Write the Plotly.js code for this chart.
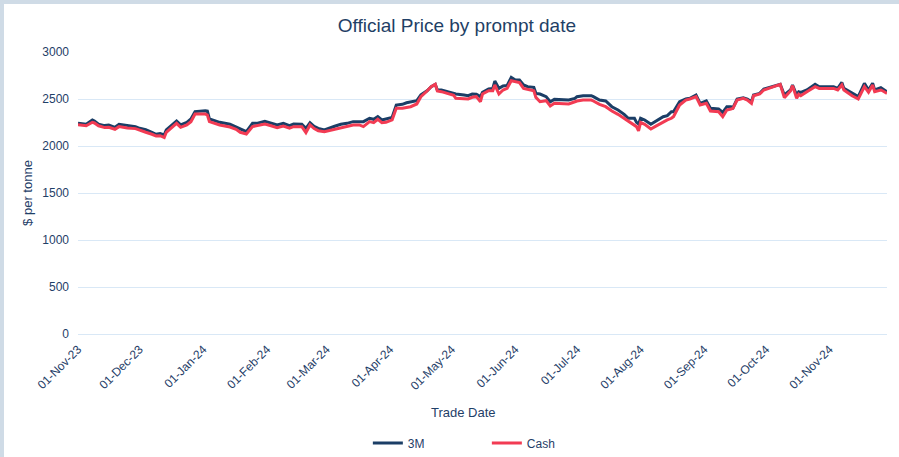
<!DOCTYPE html>
<html>
<head>
<meta charset="utf-8">
<script src="https://cdn.plot.ly/plotly-3.0.1.min.js"></script>
<style>
  html, body { margin: 0; padding: 0; background: #cfdbe6; width: 899px; height: 457px; overflow: hidden; }
  #chart { position: absolute; left: 4px; top: 4px; width: 895px; height: 453px; background: #ffffff; }
</style>
</head>
<body>
<div id="chart"></div>
<script>
const dates = [
  "2023-11-01","2023-11-05","2023-11-08","2023-11-09","2023-11-11","2023-11-14","2023-11-16","2023-11-19","2023-11-21","2023-11-25",
  "2023-11-29","2023-12-01","2023-12-04","2023-12-07","2023-12-09","2023-12-11","2023-12-13","2023-12-14","2023-12-17","2023-12-19",
  "2023-12-21","2023-12-24","2023-12-26","2023-12-28","2024-01-02","2024-01-03","2024-01-04","2024-01-09","2024-01-14","2024-01-17",
  "2024-01-19","2024-01-22","2024-01-25","2024-01-27","2024-01-31","2024-02-03","2024-02-06","2024-02-09","2024-02-12","2024-02-14",
  "2024-02-18","2024-02-20","2024-02-22","2024-02-24","2024-02-26","2024-02-29","2024-03-02","2024-03-05","2024-03-08","2024-03-11",
  "2024-03-14","2024-03-17","2024-03-19","2024-03-22","2024-03-24","2024-03-26","2024-03-28","2024-03-30","2024-04-02","2024-04-04",
  "2024-04-07","2024-04-09","2024-04-11","2024-04-14","2024-04-16","2024-04-19","2024-04-21","2024-04-23","2024-04-24","2024-04-26",
  "2024-04-29","2024-05-02","2024-05-03","2024-05-07","2024-05-09","2024-05-11","2024-05-13","2024-05-15","2024-05-16","2024-05-19",
  "2024-05-21","2024-05-22","2024-05-24","2024-05-26","2024-05-28","2024-05-30","2024-06-01","2024-06-03","2024-06-05","2024-06-07",
  "2024-06-10","2024-06-11","2024-06-13","2024-06-16","2024-06-18","2024-06-20","2024-06-24","2024-06-27","2024-06-30","2024-07-01",
  "2024-07-04","2024-07-08","2024-07-09","2024-07-12","2024-07-15","2024-07-18","2024-07-21","2024-07-24","2024-07-26","2024-07-29",
  "2024-07-30","2024-07-31","2024-08-01","2024-08-03","2024-08-06","2024-08-08","2024-08-12","2024-08-14","2024-08-16","2024-08-17",
  "2024-08-20","2024-08-23","2024-08-25","2024-08-28","2024-08-30","2024-09-02","2024-09-04","2024-09-08","2024-09-10","2024-09-12",
  "2024-09-14","2024-09-15","2024-09-17","2024-09-20","2024-09-22","2024-09-24","2024-09-25","2024-09-28","2024-09-30","2024-10-04",
  "2024-10-07","2024-10-08","2024-10-10","2024-10-13","2024-10-14","2024-10-16","2024-10-17","2024-10-18","2024-10-21","2024-10-25",
  "2024-10-27","2024-10-31","2024-11-03","2024-11-05","2024-11-07","2024-11-08","2024-11-12","2024-11-15","2024-11-18","2024-11-20",
  "2024-11-22","2024-11-23","2024-11-26","2024-11-27","2024-11-29"
];

const price3M = [
  2241,2231,2277,2266,2231,2217,2224,2199,2231,2217,
  2206,2188,2174,2146,2125,2132,2118,2171,2224,2266,
  2224,2252,2288,2366,2376,2372,2288,2252,2231,2203,
  2178,2153,2241,2241,2263,2241,2224,2241,2217,2234,
  2231,2188,2248,2210,2188,2170,2188,2210,2231,2241,
  2259,2259,2259,2295,2284,2312,2277,2288,2305,2436,
  2443,2460,2471,2482,2543,2588,2631,2656,2596,2596,
  2578,2553,2553,2543,2535,2553,2550,2525,2571,2606,
  2613,2691,2613,2638,2645,2730,2702,2702,2649,2631,
  2624,2560,2553,2525,2471,2496,2496,2489,2507,2525,
  2535,2535,2525,2489,2479,2418,2383,2337,2295,2295,
  2252,2234,2295,2277,2231,2259,2312,2323,2365,2365,
  2471,2500,2507,2543,2454,2479,2401,2394,2358,2418,
  2418,2408,2500,2514,2500,2471,2543,2560,2606,2631,
  2649,2656,2543,2596,2649,2543,2578,2571,2596,2656,
  2631,2631,2631,2613,2677,2613,2560,2525,2667,2596,
  2667,2596,2621,2606,2578
];

const priceCash = [
  2225,2215,2252,2245,2215,2196,2199,2178,2206,2191,
  2185,2167,2146,2125,2107,2110,2090,2146,2199,2241,
  2199,2224,2259,2341,2340,2330,2259,2224,2202,2178,
  2146,2128,2206,2213,2234,2216,2195,2213,2191,2206,
  2206,2142,2224,2185,2163,2153,2163,2185,2199,2213,
  2224,2224,2206,2259,2248,2284,2248,2252,2277,2401,
  2401,2410,2418,2447,2525,2585,2631,2656,2585,2578,
  2560,2539,2507,2507,2500,2518,2525,2471,2553,2588,
  2588,2649,2553,2596,2613,2695,2684,2674,2613,2603,
  2588,2517,2471,2482,2425,2454,2454,2447,2471,2479,
  2489,2489,2479,2443,2418,2372,2337,2295,2259,2216,
  2206,2160,2252,2231,2181,2206,2259,2277,2295,2312,
  2436,2489,2500,2525,2436,2454,2372,2365,2312,2383,
  2394,2401,2489,2507,2489,2454,2535,2553,2596,2624,
  2649,2656,2514,2585,2642,2507,2550,2535,2578,2631,
  2613,2613,2613,2596,2649,2596,2535,2500,2631,2571,
  2649,2578,2596,2585,2560
];

const seriesNames = ["3M", "Cash"];
const textColor = "#1f4068";
const fontFamily = "'Liberation Sans', Arial, sans-serif";

const traces = [
  { x: dates, y: price3M, name: seriesNames[0], type: "scatter", mode: "lines",
    line: { color: "#1b3e66", width: 3 } },
  { x: dates, y: priceCash, name: seriesNames[1], type: "scatter", mode: "lines",
    line: { color: "#f23b53", width: 3 } }
];

const layout = {
  width: 895, height: 453,
  paper_bgcolor: "#ffffff", plot_bgcolor: "#ffffff",
  font: { family: fontFamily, color: textColor, size: 12 },
  margin: { l: 74, r: 12, t: 48, b: 123 },
  title: { text: "Official Price by prompt date", font: { size: 19, color: "#1f3f66" },
           x: 0.506, xref: "container", xanchor: "center", y: 0.952, yref: "container", yanchor: "middle" },
  xaxis: {
    type: "date", range: ["2023-11-01", "2024-11-29"],
    tick0: "2023-11-01", dtick: "M1", tickformat: "%d-%b-%y", tickangle: -45,
    showgrid: false, zeroline: false, showline: false, ticks: "", ticklabelstandoff: 5,
    tickfont: { size: 12, color: textColor }
  },
  yaxis: {
    range: [0, 3000], dtick: 500, tick0: 0,
    showgrid: true, gridcolor: "#d9e8f6", gridwidth: 1,
    zeroline: true, zerolinecolor: "#d9e8f6", zerolinewidth: 1,
    showline: false, ticks: "", ticklabelstandoff: 8,
    tickfont: { size: 12, color: textColor },
    title: { text: "$ per tonne", font: { size: 13, color: textColor }, standoff: 6 }
  },
  annotations: [
    { text: "Trade Date", xref: "paper", yref: "paper", x: 0.477, y: -0.2766,
      xanchor: "center", yanchor: "middle", showarrow: false, font: { size: 13, color: textColor } }
  ],
  showlegend: true,
  legend: { orientation: "h", xref: "container", yref: "container", x: 0.5395, xanchor: "center",
            y: 0.031, yanchor: "middle", font: { size: 12, color: textColor },
            entrywidth: 74, entrywidthmode: "pixels", bgcolor: "rgba(0,0,0,0)" }
};

Plotly.newPlot("chart", traces, layout, { displayModeBar: false, staticPlot: true });
</script>
</body>
</html>
